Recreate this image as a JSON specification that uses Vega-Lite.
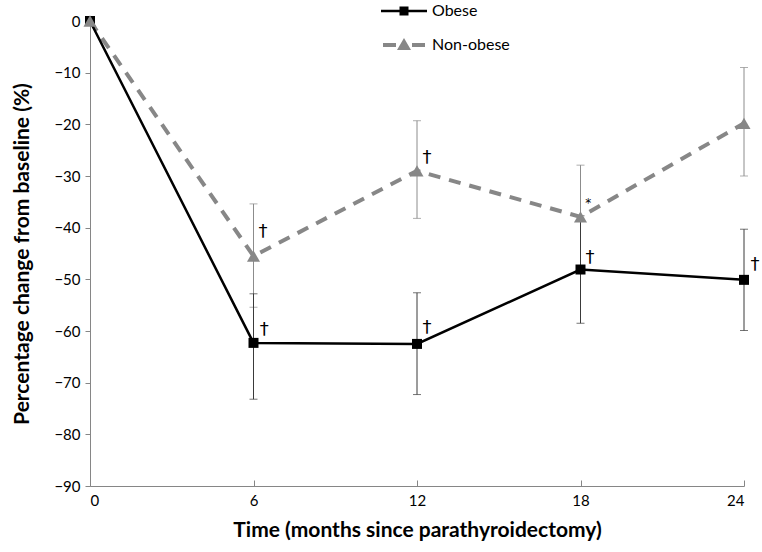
{
  "$schema": "https://vega.github.io/schema/vega-lite/v6.json",
  "width": 654,
  "height": 465,
  "autosize": {"type": "none"},
  "padding": {"left": 90, "top": 21, "right": 18, "bottom": 66},
  "background": "white",
  "config": {
    "view": {"stroke": null},
    "font": "Lato",
    "axis": {"grid": false, "domainColor": "#868686", "tickColor": "#868686", "labelColor": "#000000", "titleColor": "#000000", "labelFont": "Lato", "titleFont": "Lato", "labelFontSize": 15, "titleFontSize": 21, "titleFontWeight": "bold"}
  },
  "datasets": {
    "pts": [
      {"series": "Obese", "month": 0, "value": 0, "lower": 0, "upper": 0},
      {"series": "Obese", "month": 6, "value": -62.3, "lower": -73.2, "upper": -52.8},
      {"series": "Obese", "month": 12, "value": -62.5, "lower": -72.3, "upper": -52.6},
      {"series": "Obese", "month": 18, "value": -48.1, "lower": -58.5, "upper": -37.7},
      {"series": "Obese", "month": 24, "value": -50.1, "lower": -59.9, "upper": -40.3},
      {"series": "Non-obese", "month": 0, "value": 0, "lower": 0, "upper": 0},
      {"series": "Non-obese", "month": 6, "value": -45.5, "lower": -55.4, "upper": -35.4},
      {"series": "Non-obese", "month": 12, "value": -29.0, "lower": -38.2, "upper": -19.3},
      {"series": "Non-obese", "month": 18, "value": -37.9, "lower": -47.9, "upper": -27.9},
      {"series": "Non-obese", "month": 24, "value": -19.8, "lower": -30.0, "upper": -9.0}
    ],
    "notes": [
      {"month": 6.39, "value": -59.8, "label": "†"},
      {"month": 12.37, "value": -59.4, "label": "†"},
      {"month": 18.35, "value": -45.9, "label": "†"},
      {"month": 24.4, "value": -47.2, "label": "†"},
      {"month": 6.35, "value": -40.8, "label": "†"},
      {"month": 12.37, "value": -26.5, "label": "†"}
    ],
    "stars": [
      {"month": 18.28, "value": -35.3, "label": "*"}
    ]
  },
  "encoding": {
    "x": {"field": "month", "type": "quantitative", "scale": {"domain": [0, 24], "nice": false, "zero": false},
      "axis": {"values": [0, 6, 12, 18, 24], "title": "Time (months since parathyroidectomy)", "tickSize": -6, "labelPadding": 13, "titlePadding": 11}},
    "y": {"field": "value", "type": "quantitative", "scale": {"domain": [-90, 0], "nice": false},
      "axis": {"values": [0, -10, -20, -30, -40, -50, -60, -70, -80, -90], "title": "Percentage change from baseline (%)", "tickSize": 5, "labelPadding": 5, "titlePadding": 21}}
  },
  "layer": [
    {
      "data": {"name": "pts"},
      "transform": [{"filter": "datum.series === 'Non-obese' && datum.month > 0"}],
      "mark": {"type": "rule", "color": "#8c8c8c", "strokeWidth": 1},
      "encoding": {"y": {"field": "lower", "type": "quantitative"}, "y2": {"field": "upper"}}
    },
    {
      "data": {"name": "pts"},
      "transform": [{"filter": "datum.series === 'Non-obese' && datum.month > 0"}],
      "mark": {"type": "tick", "orient": "horizontal", "color": "#8c8c8c", "size": 8, "thickness": 1},
      "encoding": {"y": {"field": "lower", "type": "quantitative"}}
    },
    {
      "data": {"name": "pts"},
      "transform": [{"filter": "datum.series === 'Non-obese' && datum.month > 0"}],
      "mark": {"type": "tick", "orient": "horizontal", "color": "#8c8c8c", "size": 8, "thickness": 1},
      "encoding": {"y": {"field": "upper", "type": "quantitative"}}
    },
    {
      "data": {"name": "pts"},
      "transform": [{"filter": "datum.series === 'Obese' && datum.month > 0"}],
      "mark": {"type": "rule", "color": "#3a3a3a", "strokeWidth": 1},
      "encoding": {"y": {"field": "lower", "type": "quantitative"}, "y2": {"field": "upper"}}
    },
    {
      "data": {"name": "pts"},
      "transform": [{"filter": "datum.series === 'Obese' && datum.month > 0"}],
      "mark": {"type": "tick", "orient": "horizontal", "color": "#3a3a3a", "size": 8, "thickness": 1},
      "encoding": {"y": {"field": "lower", "type": "quantitative"}}
    },
    {
      "data": {"name": "pts"},
      "transform": [{"filter": "datum.series === 'Obese' && datum.month > 0"}],
      "mark": {"type": "tick", "orient": "horizontal", "color": "#3a3a3a", "size": 8, "thickness": 1},
      "encoding": {"y": {"field": "upper", "type": "quantitative"}}
    },
    {
      "data": {"name": "pts"},
      "transform": [{"filter": "datum.series === 'Non-obese'"}],
      "mark": {"type": "line", "color": "#878787", "strokeWidth": 4, "strokeDash": [12, 9]},
      "encoding": {}
    },
    {
      "data": {"name": "pts"},
      "transform": [{"filter": "datum.series === 'Obese'"}],
      "mark": {"type": "line", "color": "#000000", "strokeWidth": 2.5},
      "encoding": {}
    },
    {
      "data": {"name": "pts"},
      "transform": [{"filter": "datum.series === 'Obese'"}],
      "mark": {"type": "point", "shape": "square", "filled": true, "color": "#000000", "size": 100, "opacity": 1},
      "encoding": {}
    },
    {
      "data": {"name": "pts"},
      "transform": [{"filter": "datum.series === 'Non-obese'"}],
      "mark": {"type": "point", "shape": "triangle-up", "filled": true, "color": "#878787", "size": 170, "opacity": 1},
      "encoding": {}
    },
    {
      "data": {"name": "notes"},
      "mark": {"type": "text", "font": "DejaVu Sans", "fontSize": 18, "fill": "#000000", "align": "center", "baseline": "middle"},
      "encoding": {"text": {"field": "label"}}
    },
    {
      "data": {"name": "stars"},
      "mark": {"type": "text", "font": "DejaVu Sans", "fontSize": 12, "fill": "#000000", "align": "center", "baseline": "middle"},
      "encoding": {"text": {"field": "label"}}
    },
    {
      "data": {"name": "pts"},
      "transform": [{"filter": "datum.month === 0"}],
      "mark": {"type": "point", "filled": true, "size": 100, "opacity": 0},
      "encoding": {
        "shape": {"field": "series", "type": "nominal",
          "scale": {"domain": ["Obese", "Non-obese"], "range": ["M-4.6,-0.25H4.6V0.25H-4.6Z M-0.9,-0.9H0.9V0.9H-0.9Z", "M-4.2,-0.4H-1.6V0.4H-4.2Z M1.6,-0.4H4.2V0.4H1.6Z M0,-1.4L1.4,1.0H-1.4Z"]},
          "legend": {"orient": "none", "legendX": 306, "legendY": -18, "title": null, "symbolOpacity": 1, "labelOffset": 20, "labelFontSize": 16, "labelFont": "Lato", "labelColor": "#000000", "rowPadding": 18, "symbolStrokeWidth": 0}},
        "fill": {"field": "series", "type": "nominal",
          "scale": {"domain": ["Obese", "Non-obese"], "range": ["#000000", "#878787"]},
          "legend": null}
      }
    }
  ]
}
